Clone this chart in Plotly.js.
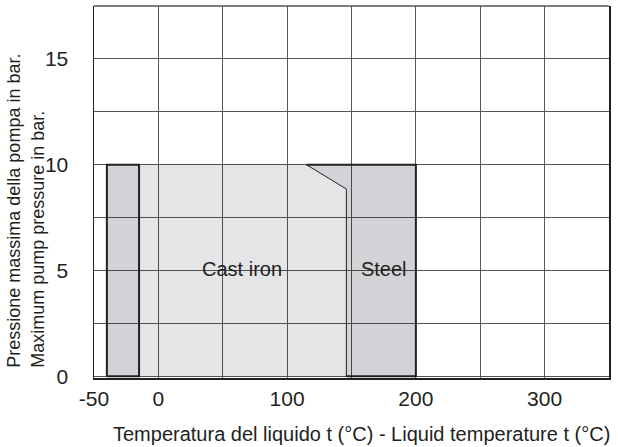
<!DOCTYPE html>
<html>
<head>
<meta charset="utf-8">
<script src="https://cdn.plot.ly/plotly-3.0.1.min.js"></script>
<style>html,body{margin:0;padding:0;background:#fff;}#chart{width:618px;height:447px;}</style>
</head>
<body>
<div id="chart"></div>
<script>
// Data (°C, bar)
const lowZoneX = [-40, -15, -15, -40, -40];
const lowZoneY = [0, 0, 10, 10, 0];
const castIronX = [-15, 115, 146, 146, -15, -15];
const castIronY = [10, 10, 8.85, 0, 0, 10];
const steelX = [115, 200, 200, 146, 146, 115];
const steelY = [10, 10, 0, 0, 8.85, 10];
const steelOutlineX = [115, 200, 200, 146];
const steelOutlineY = [10, 10, 0, 0];
const boundaryX = [115, 146, 146];
const boundaryY = [10, 8.85, 0];
const labelNames = ["Cast iron", "Steel"];
const labelX = [65, 175];
const labelY = [5, 5];
const xTickVals = [-50, 0, 100, 200, 300];
const xTickText = ["-50", "0", "100", "200", "300"];
const yTickVals = [0, 5, 10, 15];
const yTickText = ["0", "5", "10", "15"];
const xTitle = "Temperatura del liquido t (°C) - Liquid temperature t (°C)";
const yTitleLines = ["Pressione massima della pompa in bar.", "Maximum pump pressure in bar."];

const ink = "#231f20";
const gridCol = "#555";
const lightFill = "rgba(20,20,40,0.11)";
const darkFill = "rgba(20,20,40,0.19)";

const traces = [
  {x: castIronX, y: castIronY, mode: "lines", fill: "toself", fillcolor: lightFill, line: {width: 0, color: "rgba(0,0,0,0)"}, hoverinfo: "skip"},
  {x: steelX, y: steelY, mode: "lines", fill: "toself", fillcolor: darkFill, line: {width: 0, color: "rgba(0,0,0,0)"}, hoverinfo: "skip"},
  {x: lowZoneX, y: lowZoneY, mode: "lines", fill: "toself", fillcolor: darkFill, line: {width: 2, color: ink}, hoverinfo: "skip"},
  {x: steelOutlineX, y: steelOutlineY, mode: "lines", line: {width: 2, color: ink}, hoverinfo: "skip"},
  {x: boundaryX, y: boundaryY, mode: "lines", line: {width: 1, color: ink}, hoverinfo: "skip"},
  {x: labelX, y: labelY, mode: "text", text: labelNames, textposition: "middle center", textfont: {size: 20, color: ink, family: "Liberation Sans, Arial, sans-serif"}, hoverinfo: "skip"}
];

const layout = {
  width: 618, height: 447,
  margin: {l: 94, r: 9, t: 6, b: 69},
  paper_bgcolor: "#fff", plot_bgcolor: "#fff",
  showlegend: false,
  font: {family: "Liberation Sans, Arial, sans-serif", size: 18, color: ink},
  xaxis: {
    range: [-50, 350], tickvals: xTickVals, ticktext: xTickText,
    showgrid: true, gridcolor: gridCol, gridwidth: 1,
    minor: {dtick: 50, tick0: 0, showgrid: true, gridcolor: gridCol, gridwidth: 1},
    showline: true, linecolor: ink, linewidth: 1.5, mirror: false,
    zeroline: false, ticks: "", ticklabelstandoff: 1,
    tickfont: {size: 21, color: ink}
  },
  yaxis: {
    range: [-0.08, 17.5], tickvals: yTickVals, ticktext: yTickText,
    showgrid: true, gridcolor: gridCol, gridwidth: 1,
    minor: {dtick: 2.5, tick0: 0, showgrid: true, gridcolor: gridCol, gridwidth: 1},
    showline: true, linecolor: ink, linewidth: 1.5, mirror: true,
    zeroline: false, ticks: "", ticklabelstandoff: 20,
    tickfont: {size: 21, color: ink}
  },
  shapes: [
    {type: "line", xref: "paper", yref: "paper", x0: 0, x1: 1, y0: 1, y1: 1, line: {color: gridCol, width: 1.5}, layer: "above"}
  ],
  annotations: [
    {text: xTitle, xref: "paper", yref: "paper", x: 1.0064, y: -0.1495, xanchor: "right", yanchor: "middle", showarrow: false, font: {size: 20, color: ink}},
    {text: yTitleLines.join("<br>"), xref: "paper", yref: "paper", x: -0.132, y: 0.0223, xanchor: "center", yanchor: "bottom", textangle: -90, align: "left", showarrow: false, font: {size: 18, color: ink}}
  ]
};

Plotly.newPlot("chart", traces, layout, {displayModeBar: false, staticPlot: true});
</script>
</body>
</html>
